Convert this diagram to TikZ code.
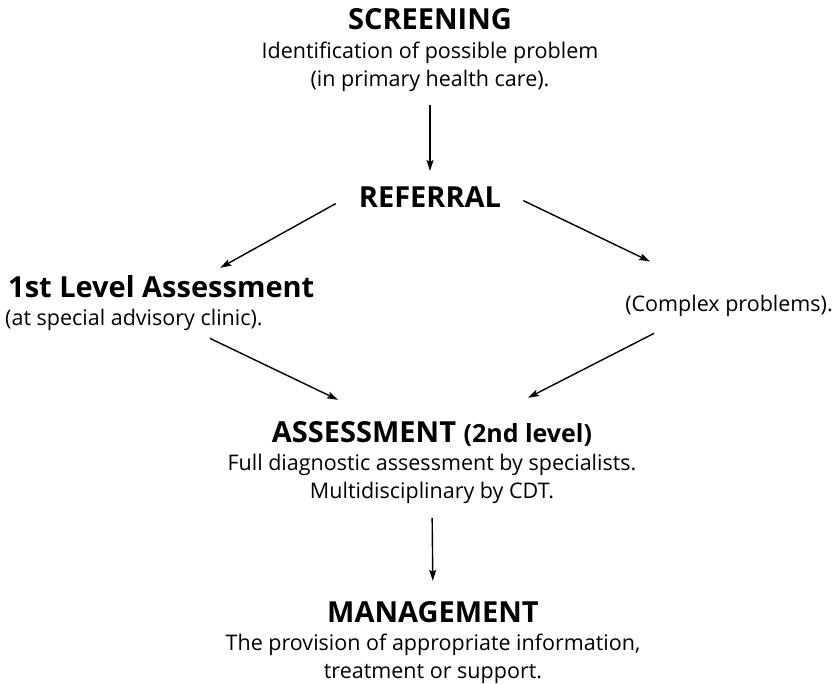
\documentclass[tikz,border=0pt]{standalone}
\usepackage{fontspec}
\setmainfont{Open Sans}
\usetikzlibrary{arrows.meta,positioning}

\begin{document}
\begin{tikzpicture}[x=1pt,y=-1pt,
            head/.style={font=\fontsize{29}{34}\selectfont\bfseries,inner sep=0pt,anchor=base},
            desc/.style={font=\fontsize{21.5}{28}\selectfont,inner sep=0pt,align=center,anchor=north},
            arr/.style={-{Stealth[length=11pt,width=7pt,inset=2pt]},line width=1.4pt}]
            \useasboundingbox (0,0) rectangle (837,684);
            %==================
            \node[head] (screen) at (430,30) {SCREENING};
            \node[desc] (screentxt) at (430,42) {Identification of possible problem\\(in primary health care).};
            %==================
            \node[head] (ref) at (430,208) {REFERRAL};
            %==================
            \node[head,anchor=base west] (first) at (8,298) {1st Level Assessment};
            \node[desc,anchor=base west] (firsttxt) at (5,325) {(at special advisory clinic).};
            \node[desc,anchor=base east] (complex) at (833,312) {(Complex problems).};
            %==================
            \node[head] (assess) at (432,442) {ASSESSMENT {\fontsize{25}{28}\selectfont(2nd level)}};
            \node[desc] (assesstxt) at (432,454) {Full diagnostic assessment by specialists.\\Multidisciplinary by CDT.};
            %==================
            \node[head] (manage) at (433,622) {MANAGEMENT};
            \node[desc] (managetxt) at (433,634) {The provision of appropriate information,\\treatment or support.};
            % ===================
            \draw[arr,shorten <=13pt,shorten >=16pt] (screentxt.south) -- (ref.north);
            \draw[arr] ([xshift=-23pt,yshift=-6pt]ref.west) -- ([xshift=59pt,yshift=8pt]first.north);
            \draw[arr] ([xshift=22pt,yshift=-3pt]ref.east) -- ([xshift=-79pt,yshift=34pt]complex.north);
            \draw[arr] ([xshift=76pt,yshift=-8pt]firsttxt.south) -- ([xshift=-94pt,yshift=21pt]assess.north);
            \draw[arr] ([xshift=-75pt,yshift=-16pt]complex.south) -- ([xshift=96pt,yshift=23pt]assess.north);
            \draw[arr,shorten <=14pt,shorten >=20pt] (assesstxt.south) -- (manage.north);
        \end{tikzpicture}
\end{document}
